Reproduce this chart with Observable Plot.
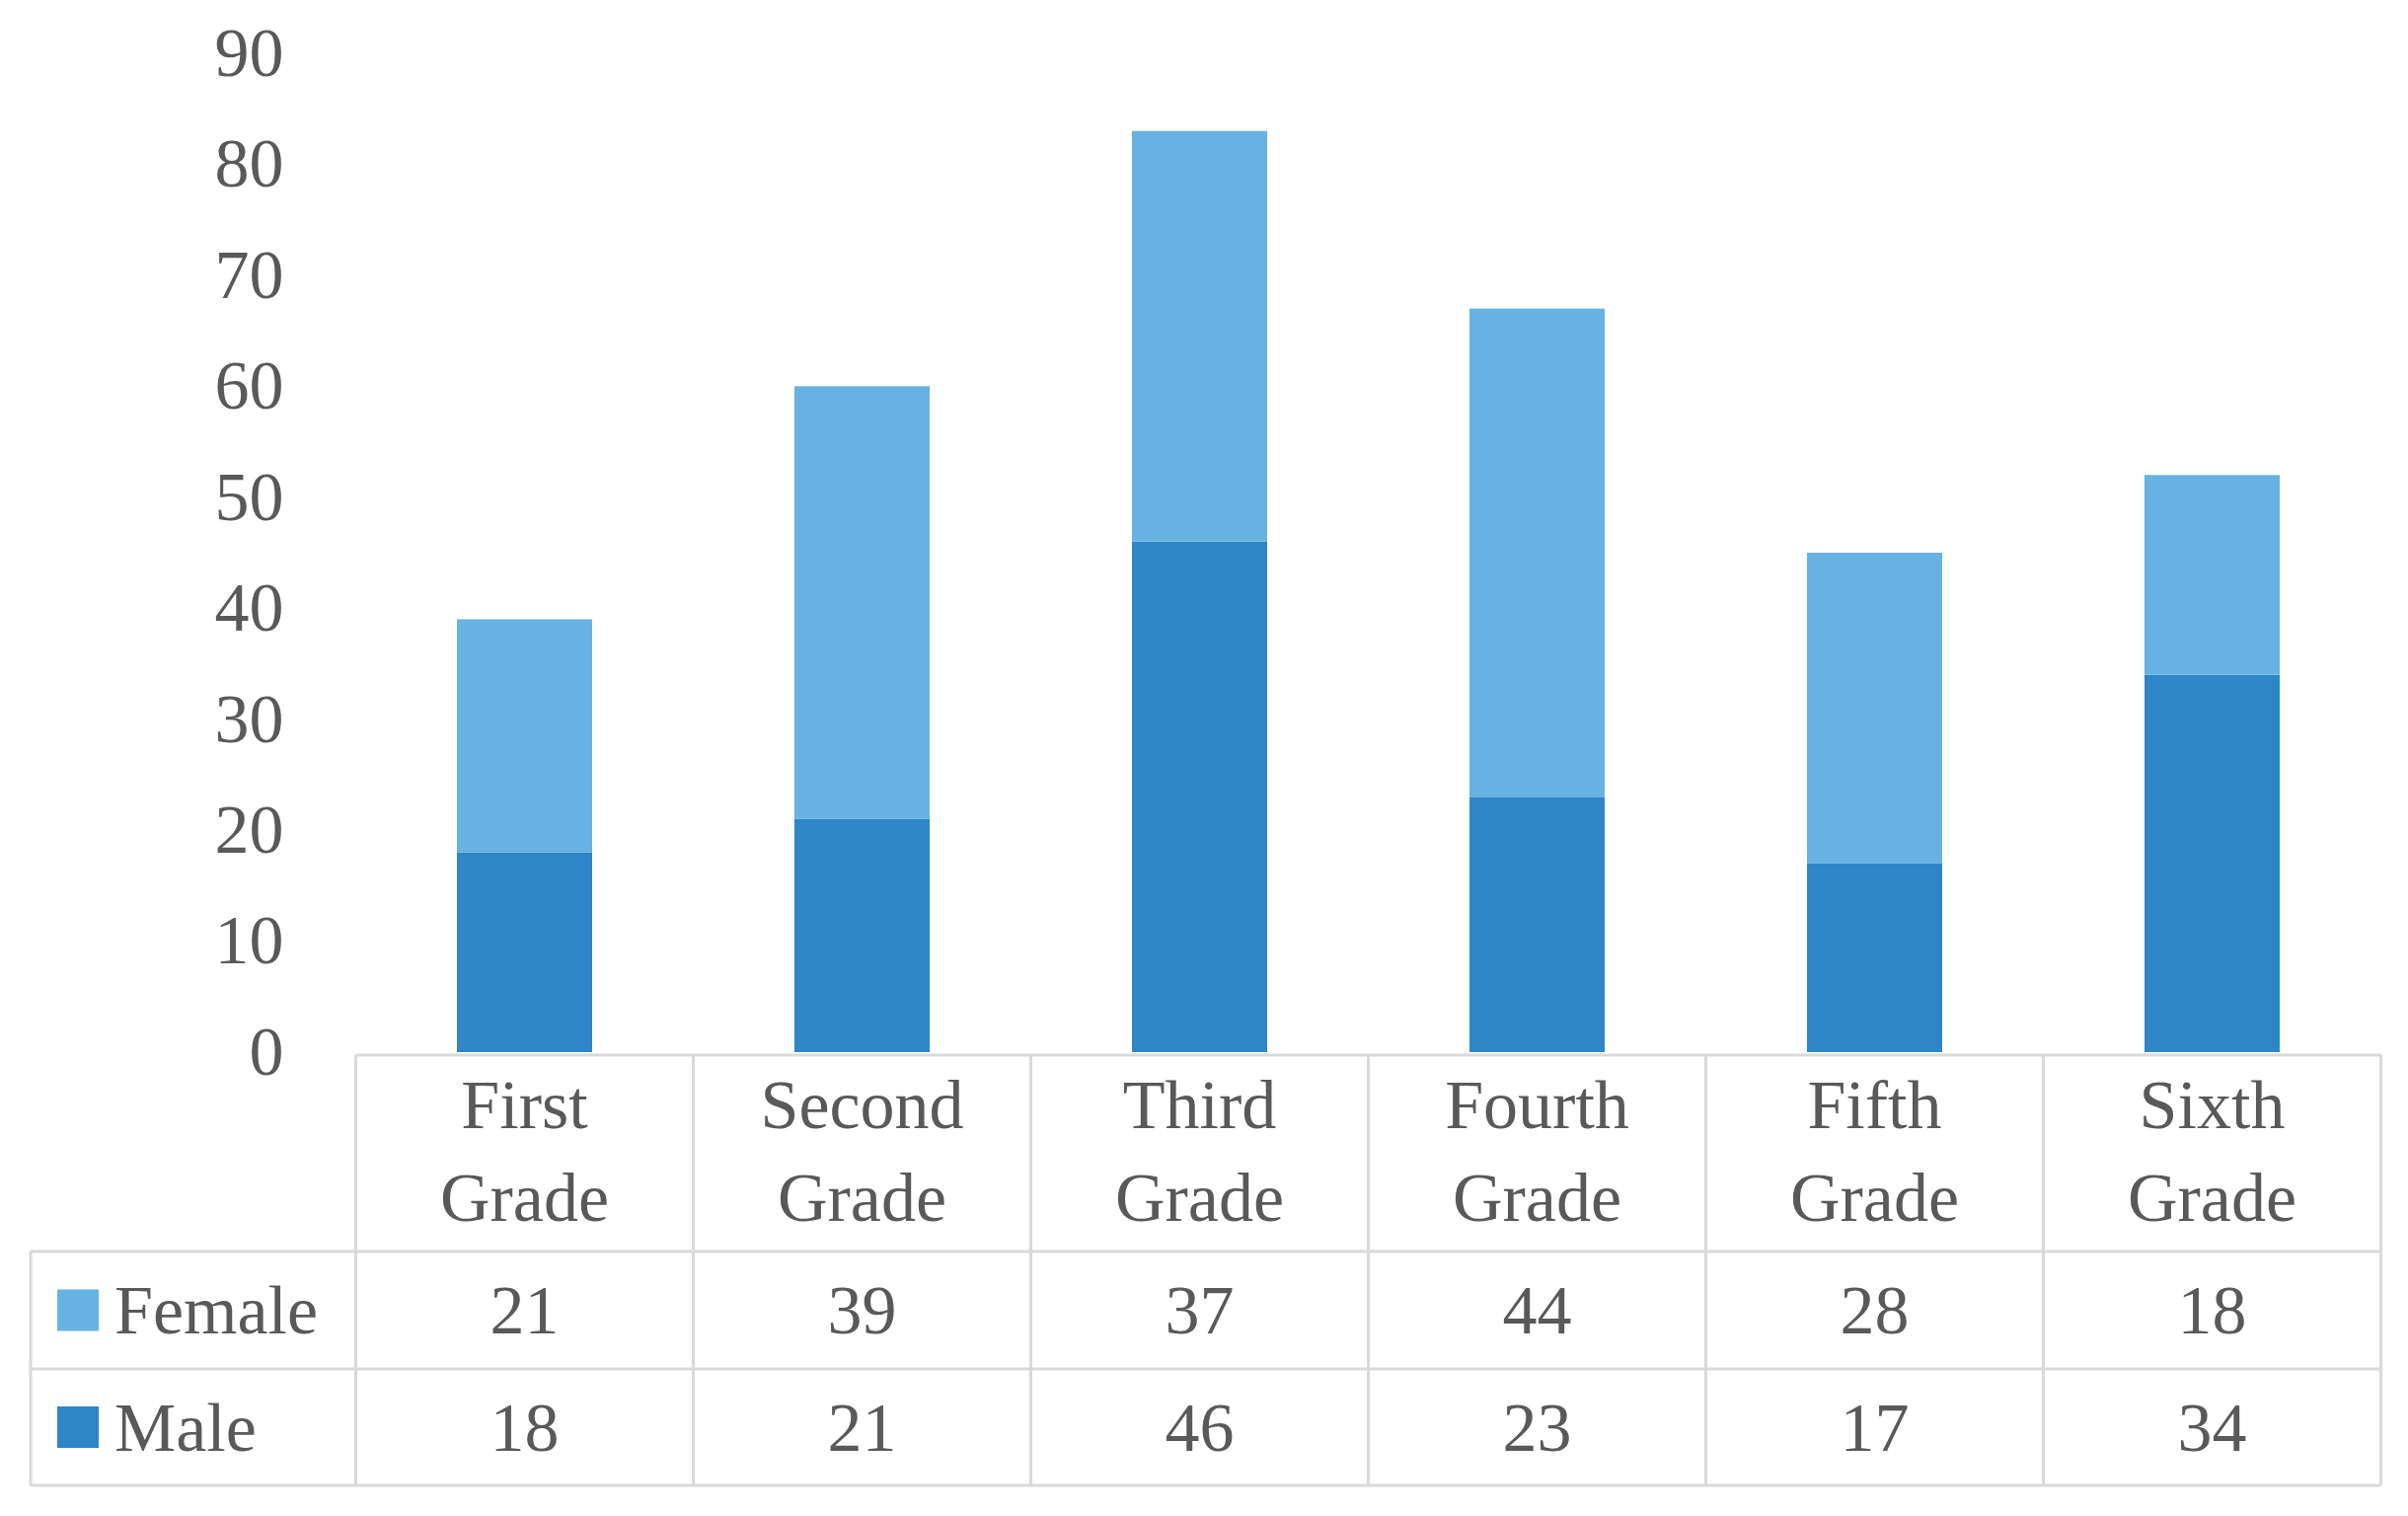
<!DOCTYPE html>
<html>
<head>
<meta charset="utf-8">
<script src="https://cdn.jsdelivr.net/npm/d3@7"></script>
<script src="https://cdn.jsdelivr.net/npm/@observablehq/plot@0.6"></script>
<style>
  html, body { margin: 0; padding: 0; background: #ffffff; }
  #chart svg { display: block; }
</style>
</head>
<body>
<div id="chart"></div>
<script>
// ---- data ----
const grades = ["First Grade", "Second Grade", "Third Grade", "Fourth Grade", "Fifth Grade", "Sixth Grade"];
const female = [21, 39, 37, 44, 28, 18];
const male   = [18, 21, 46, 23, 17, 34];
const seriesNames = ["Female", "Male"];
const seriesColors = ["#66B2E2", "#2E86C8"];
const yTicks = [0, 10, 20, 30, 40, 50, 60, 70, 80, 90];

// long table (Male first so it stacks at the bottom)
const rows = [];
grades.forEach((g, i) => rows.push({grade: g, series: "Male", value: male[i]}));
grades.forEach((g, i) => rows.push({grade: g, series: "Female", value: female[i]}));

const textColor = "#595959";
const lineColor = "#D9D9D9";
const fontFamily = "'Liberation Serif', 'DejaVu Serif', serif";

const W = 2440, H = 1536;
const plot = Plot.plot({
  width: W,
  height: H,
  marginTop: 54,
  marginBottom: 470,
  marginLeft: 358,
  marginRight: 25,
  style: {fontFamily, fontSize: "70px", color: textColor, background: "#ffffff", overflow: "visible"},
  x: {domain: grades, paddingInner: 0.6, paddingOuter: 0.3, axis: null},
  y: {domain: [0, 90], ticks: yTicks, tickSize: 0, tickPadding: 71, label: null, tickFormat: d => String(d)},
  color: {domain: seriesNames, range: seriesColors},
  marks: [
    Plot.barY(rows, {x: "grade", y: "value", fill: "series"})
  ]
});
document.getElementById("chart").appendChild(plot);

// ---- data table under the plot, aligned on Plot's x scale ----
const xs = plot.scale("x");
const step = xs.step;
const bw = xs.bandwidth;
function bandStart(g) {
  if (typeof xs.apply === "function") return xs.apply(g);
  const n = xs.domain.length;
  const [a, b] = xs.range;
  const total = step * (n - xs.paddingInner + 2 * xs.paddingOuter);
  const start = a + (b - a - total) * (xs.align ?? 0.5) + step * xs.paddingOuter;
  return start + xs.domain.indexOf(g) * step;
}
const centers = grades.map(g => bandStart(g) + bw / 2);
const colLeft = centers.map(c => c - step / 2);
const tableRight = centers[centers.length - 1] + step / 2;
const tableLeftX = 31;
const yHeaderTop = 1069, yFemaleTop = 1268, yMaleTop = 1387, yBottom = 1505;

const svg = d3.select(plot);
const g = svg.append("g").attr("font-family", fontFamily).attr("font-size", 70).attr("fill", textColor);
const lines = g.append("g").attr("stroke", lineColor).attr("stroke-width", 3).attr("fill", "none");

// horizontal lines
lines.append("line").attr("x1", colLeft[0]).attr("x2", tableRight).attr("y1", yHeaderTop).attr("y2", yHeaderTop);
[yFemaleTop, yMaleTop, yBottom].forEach(y =>
  lines.append("line").attr("x1", tableLeftX).attr("x2", tableRight).attr("y1", y).attr("y2", y));
// vertical lines
colLeft.concat([tableRight]).forEach(x =>
  lines.append("line").attr("x1", x).attr("x2", x).attr("y1", yHeaderTop).attr("y2", yBottom));
lines.append("line").attr("x1", tableLeftX).attr("x2", tableLeftX).attr("y1", yFemaleTop).attr("y2", yBottom);

// header labels (two lines)
grades.forEach((name, i) => {
  const words = name.split(" ");
  const t = g.append("text").attr("text-anchor", "middle");
  t.append("tspan").attr("x", centers[i]).attr("y", 1143).text(words[0]);
  t.append("tspan").attr("x", centers[i]).attr("y", 1237).text(words.slice(1).join(" "));
});

// value rows
const tableRows = [
  {name: "Female", values: female, top: yFemaleTop, bottom: yMaleTop},
  {name: "Male", values: male, top: yMaleTop, bottom: yBottom}
];
tableRows.forEach(r => {
  const cy = (r.top + r.bottom) / 2;
  const color = seriesColors[seriesNames.indexOf(r.name)];
  g.append("rect").attr("x", 58).attr("y", cy - 21).attr("width", 42).attr("height", 42).attr("fill", color);
  g.append("text").attr("x", 116).attr("y", cy).attr("dy", "0.34em").attr("text-anchor", "start").text(r.name);
  r.values.forEach((v, i) => {
    g.append("text").attr("x", centers[i]).attr("y", cy).attr("dy", "0.34em")
      .attr("text-anchor", "middle").text(v);
  });
});
</script>
</body>
</html>
